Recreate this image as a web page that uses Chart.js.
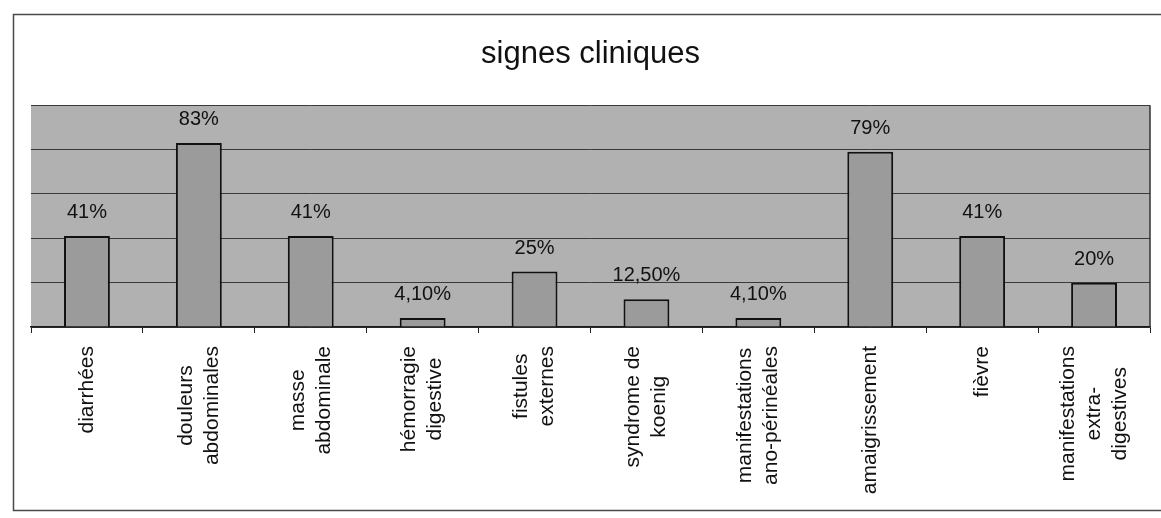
<!DOCTYPE html>
<html>
<head>
<meta charset="utf-8">
<script src="https://cdn.jsdelivr.net/npm/chart.js@4/dist/chart.umd.min.js"></script>
<style>
  html, body { margin: 0; padding: 0; background: #ffffff; }
  #wrap { width: 1161px; height: 518px; position: relative; }
</style>
</head>
<body>
<div id="wrap"><canvas id="c" width="1161" height="518"></canvas></div>
<script>
const chartTitle = 'signes cliniques';
const categories = [
  ['diarrhées'],
  ['douleurs', 'abdominales'],
  ['masse', 'abdominale'],
  ['hémorragie', 'digestive'],
  ['fistules', 'externes'],
  ['syndrome de', 'koenig'],
  ['manifestations', 'ano-périnéales'],
  ['amaigrissement'],
  ['fièvre'],
  ['manifestations', 'extra-', 'digestives']
];
const values = [41, 83, 41, 4.1, 25, 12.5, 4.1, 79, 41, 20];
const yTicks = [0, 20, 40, 60, 80, 100];

function fmtPct(v) {
  return Number.isInteger(v) ? v + '%' : v.toFixed(2).replace('.', ',') + '%';
}

const FONT = "'Liberation Sans', Arial, sans-serif";

const decor = {
  id: 'decor',
  beforeDraw(chart) {
    const { ctx, chartArea: a } = chart;
    ctx.save();
    ctx.strokeStyle = '#4a4a4a';
    ctx.lineWidth = 1.5;
    ctx.beginPath();
    ctx.moveTo(1161, 14.5);
    ctx.lineTo(13.5, 14.5);
    ctx.lineTo(13.5, 510.5);
    ctx.lineTo(1161, 510.5);
    ctx.stroke();
    ctx.fillStyle = '#b1b1b1';
    ctx.fillRect(a.left, a.top, a.right - a.left, a.bottom - a.top);
    ctx.restore();
  },
  afterDatasetsDraw(chart) {
    const { ctx, chartArea: a } = chart;
    ctx.save();
    ctx.strokeStyle = '#333';
    ctx.lineWidth = 1.5;
    ctx.beginPath();
    ctx.moveTo(a.right, a.top);
    ctx.lineTo(a.right, a.bottom);
    ctx.stroke();
    const meta = chart.getDatasetMeta(0);
    ctx.fillStyle = '#111';
    ctx.font = '20px ' + FONT;
    ctx.textAlign = 'center';
    ctx.textBaseline = 'alphabetic';
    meta.data.forEach((bar, i) => {
      ctx.fillText(fmtPct(values[i]), bar.x, bar.y - 18);
    });
    const xs = chart.scales.x;
    ctx.font = '21px ' + FONT;
    ctx.textBaseline = 'middle';
    const lh = 26;
    categories.forEach((lines, i) => {
      const cx = xs.getPixelForValue(i);
      let maxW = 0;
      lines.forEach(l => { maxW = Math.max(maxW, ctx.measureText(l).width); });
      const cy = a.bottom + 19 + maxW / 2;
      ctx.save();
      ctx.translate(cx, cy);
      ctx.rotate(-Math.PI / 2);
      lines.forEach((l, j) => {
        ctx.fillText(l, 0, (j - (lines.length - 1) / 2) * lh);
      });
      ctx.restore();
    });
    ctx.restore();
  }
};

new Chart(document.getElementById('c'), {
  type: 'bar',
  data: {
    labels: categories,
    datasets: [{
      data: values,
      backgroundColor: '#9b9b9b',
      borderColor: '#111111',
      borderWidth: 2,
      borderSkipped: 'bottom',
      barPercentage: 0.41,
      categoryPercentage: 1.0
    }]
  },
  options: {
    responsive: false,
    animation: false,
    layout: { padding: { left: 31, right: 11, top: 0, bottom: 0 } },
    plugins: {
      legend: { display: false },
      tooltip: { enabled: false },
      title: {
        display: true,
        text: chartTitle,
        color: '#111',
        font: { family: FONT, size: 31, weight: 'normal', lineHeight: 1.2 },
        padding: { top: 36, bottom: 32 }
      }
    },
    scales: {
      x: {
        offset: true,
        grid: {
          display: true,
          offset: true,
          drawOnChartArea: false,
          drawTicks: true,
          tickLength: 6,
          color: '#222',
          lineWidth: 1
        },
        border: { display: true, color: '#1a1a1a', width: 1.5 },
        ticks: { display: false },
        afterFit(scale) { scale.height = 191; }
      },
      y: {
        min: yTicks[0],
        max: yTicks[yTicks.length - 1],
        afterBuildTicks(scale) { scale.ticks = yTicks.map(v => ({ value: v })); },
        grid: { color: '#3a3a3a', lineWidth: 1, drawTicks: false },
        border: { display: false },
        ticks: { display: false },
        afterFit(scale) { scale.width = 0; }
      }
    }
  },
  plugins: [decor]
});
</script>
</body>
</html>
